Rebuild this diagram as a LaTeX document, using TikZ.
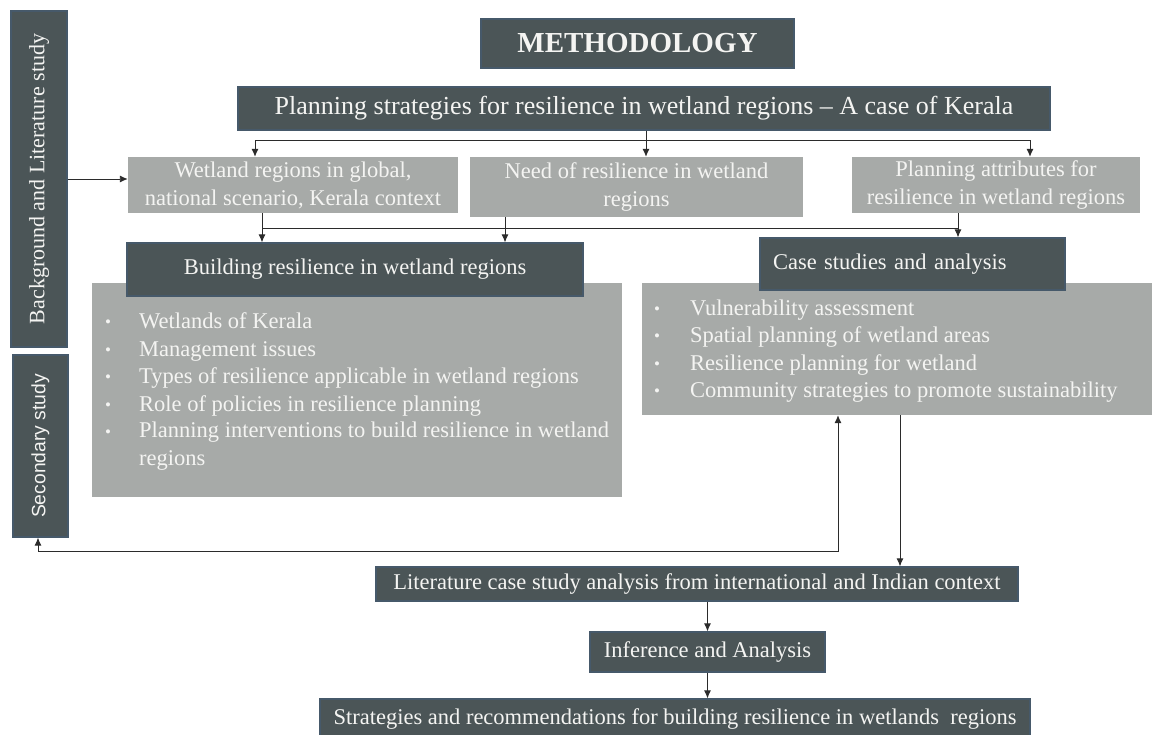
\documentclass[tikz,border=0pt]{standalone}
\usepackage{fontspec}
\setmainfont{Liberation Serif}
\setsansfont{Liberation Sans}
\usetikzlibrary{arrows.meta}
\definecolor{darkfill}{HTML}{4B5557}
\definecolor{darkedge}{HTML}{46596A}
\definecolor{grayfill}{HTML}{A7AAA8}
\definecolor{txtwhite}{HTML}{F4F4F2}
\definecolor{linec}{HTML}{2B2B2B}
\begin{document}
\begin{tikzpicture}[x=1pt,y=-1pt,
 darkbox/.style={draw=darkedge, line width=1.2pt, fill=darkfill, text=txtwhite, inner sep=0pt, align=center, font=\fontsize{22.5}{26}\selectfont},
 graybox/.style={draw=none, fill=grayfill, text=txtwhite, inner sep=0pt, align=center, font=\fontsize{22.5}{28}\selectfont},
 conn/.style={draw=linec, line width=0.9pt},
 arr/.style={conn, -{Latex[length=8pt,width=7pt]}},
 arrboth/.style={conn, {Latex[length=8pt,width=7pt]}-{Latex[length=8pt,width=7pt]}},
 btxt/.style={text=txtwhite, inner sep=0pt, anchor=base west, font=\fontsize{22.5}{26}\selectfont},
 bdot/.style={text=txtwhite, inner sep=0pt, anchor=base, font=\fontsize{17}{20}\selectfont},
]
\clip (0,0) rectangle (1152,735);
\useasboundingbox (0,0) rectangle (1152,735);

% side bars
\node[darkbox, minimum width=56, minimum height=336] (bg) at (39,179) {};
\node[rotate=90, text=txtwhite, inner sep=0pt, font=\fontsize{22}{26}\selectfont] (bgt) at (bg.center) {Background and Literature study};
\node[darkbox, minimum width=55, minimum height=182] (sec) at (40.5,446) {};
\node[rotate=90, text=txtwhite, inner sep=0pt, font=\sffamily\fontsize{19.3}{22}\selectfont] (sect) at (sec.center) {Secondary study};

% title boxes
\node[darkbox, minimum width=313, minimum height=49, font=\bfseries\fontsize{29}{33}\selectfont] (meth) at (637.5,43.5) {METHODOLOGY};
\node[darkbox, minimum width=812, minimum height=43, font=\fontsize{26}{30}\selectfont] (plan) at (644,108.5) {Planning strategies for resilience in wetland regions -- A case of Kerala};

% second row
\node[graybox, minimum width=330, minimum height=56] (wet) at (293,185) {Wetland regions in global,\\ national scenario, Kerala context};
\node[graybox, minimum width=333, minimum height=60] (need) at (636.5,187) {Need of resilience in wetland\\ regions};
\node[graybox, minimum width=288, minimum height=56] (attr) at (996,185) {Planning attributes for\\ resilience in wetland regions};

% building resilience
\node[graybox, minimum width=530, minimum height=214] (blist) at (357,390) {};
\node[darkbox, minimum width=456, minimum height=53] (build) at (355,269.5) {Building resilience in wetland regions};
\foreach \t/\y [count=\i] in {Wetlands of Kerala/329, Management issues/357, Types of resilience applicable in wetland regions/384, Role of policies in resilience planning/411, Planning interventions to build resilience in wetland/438}{
  \node[bdot] (bd\i) at (108,\y-1) {\textbullet};
  \node[btxt] (bt\i) at (139,\y) {\t};
}
\node[btxt] (bt6) at (139,465) {regions};

% case studies
\node[graybox, minimum width=510, minimum height=132] (clist) at (897,349) {};
\node[darkbox, minimum width=305, minimum height=52, text width=279, align=left] (case) at (912.5,264) {Case studies and analysis};
\foreach \t/\y [count=\i] in {Vulnerability assessment/316, Spatial planning of wetland areas/343, Resilience planning for wetland/371, Community strategies to promote sustainability/398}{
  \node[bdot] (cd\i) at (657,\y-1) {\textbullet};
  \node[btxt] (ct\i) at (690,\y) {\t};
}

% bottom chain
\node[darkbox, minimum width=642, minimum height=34] (lit) at (697,584) {Literature case study analysis from international and Indian context};
\node[darkbox, minimum width=235, minimum height=40] (inf) at (707.5,652) {Inference and Analysis};
\node[darkbox, minimum width=710, minimum height=40] (strat) at (675,719) {Strategies and recommendations for building resilience in wetlands\ \ regions};

% connectors: plan -> row 2
\coordinate (pj) at (646,140);
\draw[conn] (plan.south -| pj) -- (pj);
\draw[arr] (pj) -| ([xshift=-38pt]wet.north);
\draw[arr] (pj) -- (pj |- need.north);
\draw[arr] (pj) -| ([xshift=34pt]attr.north);

% row 2 -> building / case
\coordinate (h1) at (262,228);
\coordinate (h2) at (505,228);
\coordinate (h3) at (958,228);
\draw[conn] (wet.south -| h1) -- (h1) -- (h3);
\draw[conn] (attr.south -| h3) -- (h3);
\draw[arr] (h1) -- (h1 |- build.north);
\draw[arr] (need.south -| h2) -- (h2 |- build.north);
\draw[arr] (h3) -- (h3 |- case.north);

% background -> wetland
\draw[arr] (bg.east) -- (bg.east -| wet.west);

% case list -> literature
\coordinate (cx) at (900,0);
\draw[arr] (clist.south -| cx) -- (lit.north -| cx);

% feedback loop
\coordinate (fb) at (838,551);
\coordinate (fs) at (38,0);
\draw[arrboth] (sec.south -| fs) |- (fb) -- (clist.south -| fb);

% chain
\draw[arr] (lit.south -| inf.north) -- (inf.north);
\draw[arr] (inf.south) -- (inf.south |- strat.north);
\end{tikzpicture}
\end{document}
